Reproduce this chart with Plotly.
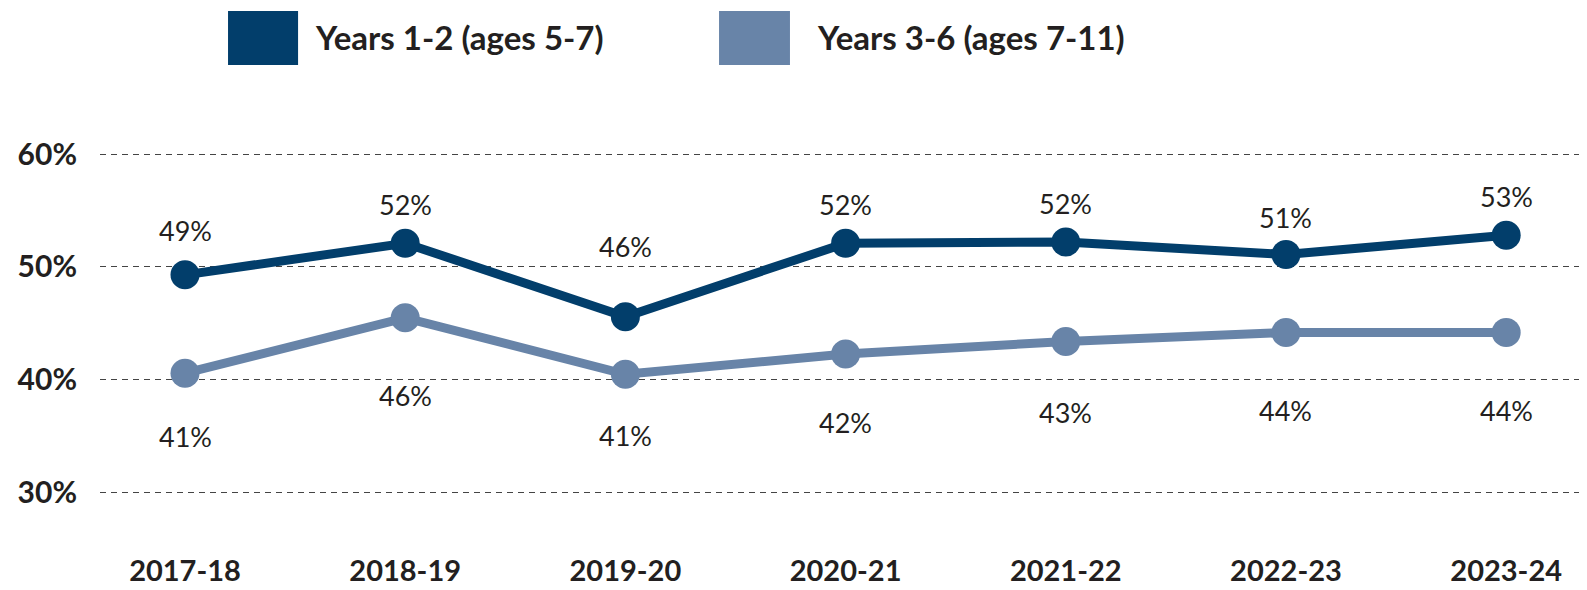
import plotly.graph_objects as go

years = ["2017-18", "2018-19", "2019-20", "2020-21", "2021-22", "2022-23", "2023-24"]
series_names = ["Years 1-2 (ages 5-7)", "Years 3-6 (ages 7-11)"]
years_1_2 = [49.3, 52.1, 45.6, 52.1, 52.2, 51.1, 52.8]
years_3_6 = [40.6, 45.5, 40.5, 42.3, 43.4, 44.2, 44.2]
labels_1_2 = ["49%", "52%", "46%", "52%", "52%", "51%", "53%"]
labels_3_6 = ["41%", "46%", "41%", "42%", "43%", "44%", "44%"]
y_ticks = [30, 40, 50, 60]

# styling
dark = "#023E6B"
light = "#6884A8"
shift_1_2 = [44, 39, 70, 39, 39, 37, 39]
shift_3_6 = [-63, -78, -61, -69, -71, -78, -78]
FONT = "Lato"

fig = go.Figure()
for vals, col, name in [(years_1_2, dark, series_names[0]), (years_3_6, light, series_names[1])]:
    fig.add_trace(go.Scatter(
        x=years, y=vals, mode="lines+markers", name=name,
        line=dict(color=col, width=9),
        marker=dict(color=col, size=29),
        showlegend=False, cliponaxis=False,
    ))

ann = []
for vals, labs, shifts in [(years_1_2, labels_1_2, shift_1_2), (years_3_6, labels_3_6, shift_3_6)]:
    for x, v, t, s in zip(years, vals, labs, shifts):
        ann.append(dict(x=x, y=v, text=t, showarrow=False, yshift=s,
                        font=dict(family=FONT, size=27, color="#231F20")))

# legend built from shapes + text
shapes = []
leg = [(series_names[0], dark, 0.0861, 0.1332, 0.1435), (series_names[1], light, 0.4163, 0.4640, 0.4811)]
for name, col, x0, x1, tx in leg:
    shapes.append(dict(type="rect", xref="paper", yref="paper", x0=x0, x1=x1, y0=1.0791, y1=1.2047,
                       fillcolor=col, line=dict(width=0)))
    ann.append(dict(xref="paper", yref="paper", x=tx, y=1.144, text="<b>" + name + "</b>",
                    showarrow=False, xanchor="left", yanchor="middle",
                    font=dict(family=FONT, size=33, color="#231F20")))

fig.update_layout(
    width=1579, height=582,
    margin=dict(l=92, r=0, t=91, b=61, autoexpand=False),
    paper_bgcolor="white", plot_bgcolor="white",
    shapes=shapes, annotations=ann,
    xaxis=dict(type="category", range=[-0.386, 6.367], showgrid=False, zeroline=False,
               showline=False, ticks="", ticklabelstandoff=22, automargin=False,
               tickfont=dict(family=FONT, size=29, color="#231F20", weight="bold")),
    yaxis=dict(range=[26.8, 64.87], tickvals=y_ticks, ticktext=[f"{v}%" for v in y_ticks],
               showgrid=True, gridcolor="#444444", gridwidth=1, griddash="6px,5px",
               zeroline=False, showline=False, ticks="", ticklabelstandoff=22, automargin=False,
               tickfont=dict(family=FONT, size=30, color="#231F20", weight="bold")),
)
fig.write_html("out.html")
